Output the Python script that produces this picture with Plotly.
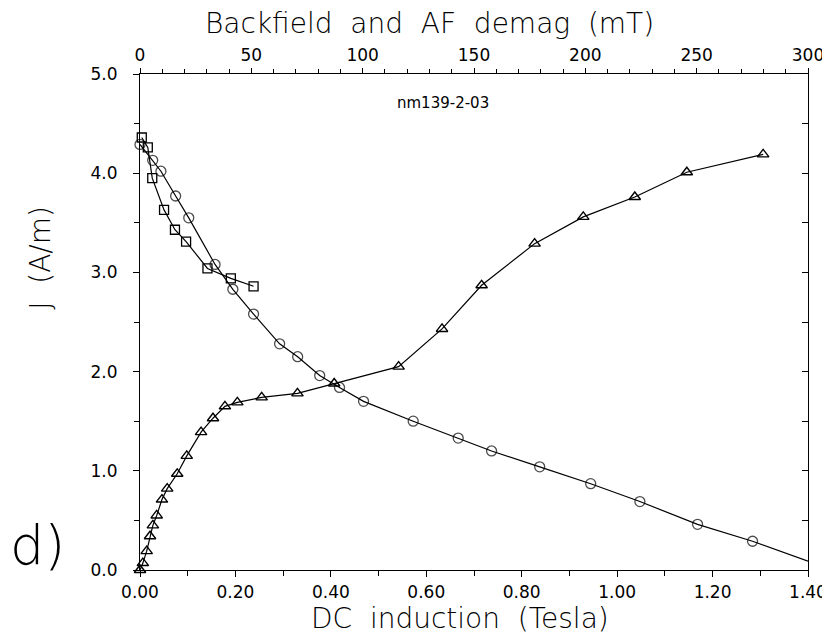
import plotly.graph_objects as go

# IRM acquisition (DC induction, Tesla) - triangles, bottom axis
irm_field = [0.0, 0.006, 0.014, 0.021, 0.027, 0.035, 0.046, 0.057, 0.078, 0.098,
             0.128, 0.153, 0.178, 0.204, 0.255, 0.330, 0.407, 0.542, 0.633, 0.716,
             0.827, 0.929, 1.037, 1.146, 1.306]
irm_j = [0.0, 0.07, 0.19, 0.34, 0.45, 0.55, 0.71, 0.82, 0.97, 1.15,
         1.39, 1.53, 1.65, 1.69, 1.74, 1.78, 1.88, 2.05, 2.43, 2.87,
         3.29, 3.56, 3.76, 4.01, 4.19]

# AF demag (mT) - circles, top axis
af_field = [0, 5.7, 9.4, 16.0, 21.9, 33.7, 41.7, 51.0, 62.7, 70.8,
            80.7, 89.6, 100.4, 122.7, 142.9, 157.9, 179.5, 202.4, 224.5,
            250.4, 275.1, 300]
af_j = [4.29, 4.13, 4.02, 3.77, 3.55, 3.08, 2.83, 2.58, 2.28, 2.15,
        1.96, 1.84, 1.70, 1.50, 1.33, 1.20, 1.04, 0.87, 0.69,
        0.46, 0.29, 0.09]

# Backfield (mT) - squares, top axis
bf_field = [0.8, 3.5, 5.5, 10.8, 15.7, 20.7, 30.3, 40.8, 51.0]
bf_j = [4.36, 4.26, 3.95, 3.63, 3.43, 3.31, 3.04, 2.94, 2.86]

FONT = "DejaVu Sans"
blk = "black"

fig = go.Figure()

fig.add_trace(go.Scatter(
    x=irm_field, y=irm_j, mode="lines+markers", xaxis="x", yaxis="y",
    line=dict(color=blk, width=1.2),
    marker=dict(symbol="triangle-up-open", color=blk, size=10,
                line=dict(color=blk, width=1.4)),
    showlegend=False, cliponaxis=False))

af_sizes = [10] * (len(af_field) - 1) + [0]
fig.add_trace(go.Scatter(
    x=af_field, y=af_j, mode="lines+markers", xaxis="x2", yaxis="y",
    line=dict(color=blk, width=1.2),
    marker=dict(symbol="circle-open", color=blk, size=af_sizes,
                line=dict(color=blk, width=1.3)),
    showlegend=False, cliponaxis=False))

fig.add_trace(go.Scatter(
    x=bf_field, y=bf_j, mode="lines+markers", xaxis="x2", yaxis="y",
    line=dict(color=blk, width=1.2),
    marker=dict(symbol="square-open", color=blk, size=9,
                line=dict(color=blk, width=1.3)),
    showlegend=False, cliponaxis=False))

tickfont = dict(family=FONT, size=17, color=blk)
axline = dict(showline=True, linecolor=blk, linewidth=1.2, showgrid=False,
              zeroline=False, tickcolor=blk, tickwidth=1.2)

# page body has an 8px margin, so the plot box is shifted by 8px here
fig.update_layout(
    width=830, height=637,
    margin=dict(l=132, r=30, t=66, b=75),
    paper_bgcolor="white", plot_bgcolor="white",
    xaxis=dict(range=[0, 1.4], dtick=0.2, tick0=0, tickformat=".2f",
               ticks="outside", ticklen=6, tickfont=tickfont,
               minor=dict(dtick=0.1, ticks="outside", ticklen=5, tickcolor=blk),
               **axline),
    xaxis2=dict(range=[0, 300], dtick=50, tick0=0, overlaying="x", side="top",
                ticks="outside", ticklen=5, tickfont=tickfont,
                minor=dict(dtick=10, ticks="outside", ticklen=4, tickcolor=blk),
                **axline),
    yaxis=dict(range=[0, 5], dtick=1, tick0=0, tickformat=".1f",
               ticks="outside", ticklen=6, tickfont=tickfont, ticklabelstandoff=12,
               minor=dict(dtick=0.5, ticks="outside", ticklen=5, tickcolor=blk),
               **axline),
    yaxis2=dict(range=[0, 5], dtick=0.5, overlaying="y", side="right",
                ticks="inside", ticklen=6, showticklabels=False, **axline),
)

big = dict(family=FONT, size=28, color=blk, weight=200)
ann = dict(xref="paper", yref="paper", showarrow=False,
           xanchor="center", yanchor="middle")
fig.add_annotation(text="Backfield  and  AF  demag  (mT)",
                   x=0.434, y=1.101, font=big, **ann)
fig.add_annotation(text="DC  induction  (Tesla)",
                   x=0.479, y=-0.097, font=big, **ann)
fig.add_annotation(text="J  (A/m)", textangle=-90,
                   x=-0.150, y=0.629, font=big, **ann)
fig.add_annotation(text="d)", x=-0.153, y=0.050,
                   font=dict(family=FONT, size=54, color=blk, weight=200), **ann)
fig.add_annotation(text="nm139-2-03", x=0.454, y=0.942,
                   font=dict(family=FONT, size=15, color=blk), **ann)

# dummy trace to activate the right axis
fig.add_trace(go.Scatter(x=[None], y=[None], xaxis="x", yaxis="y2", showlegend=False))

fig.write_html("out.html")
